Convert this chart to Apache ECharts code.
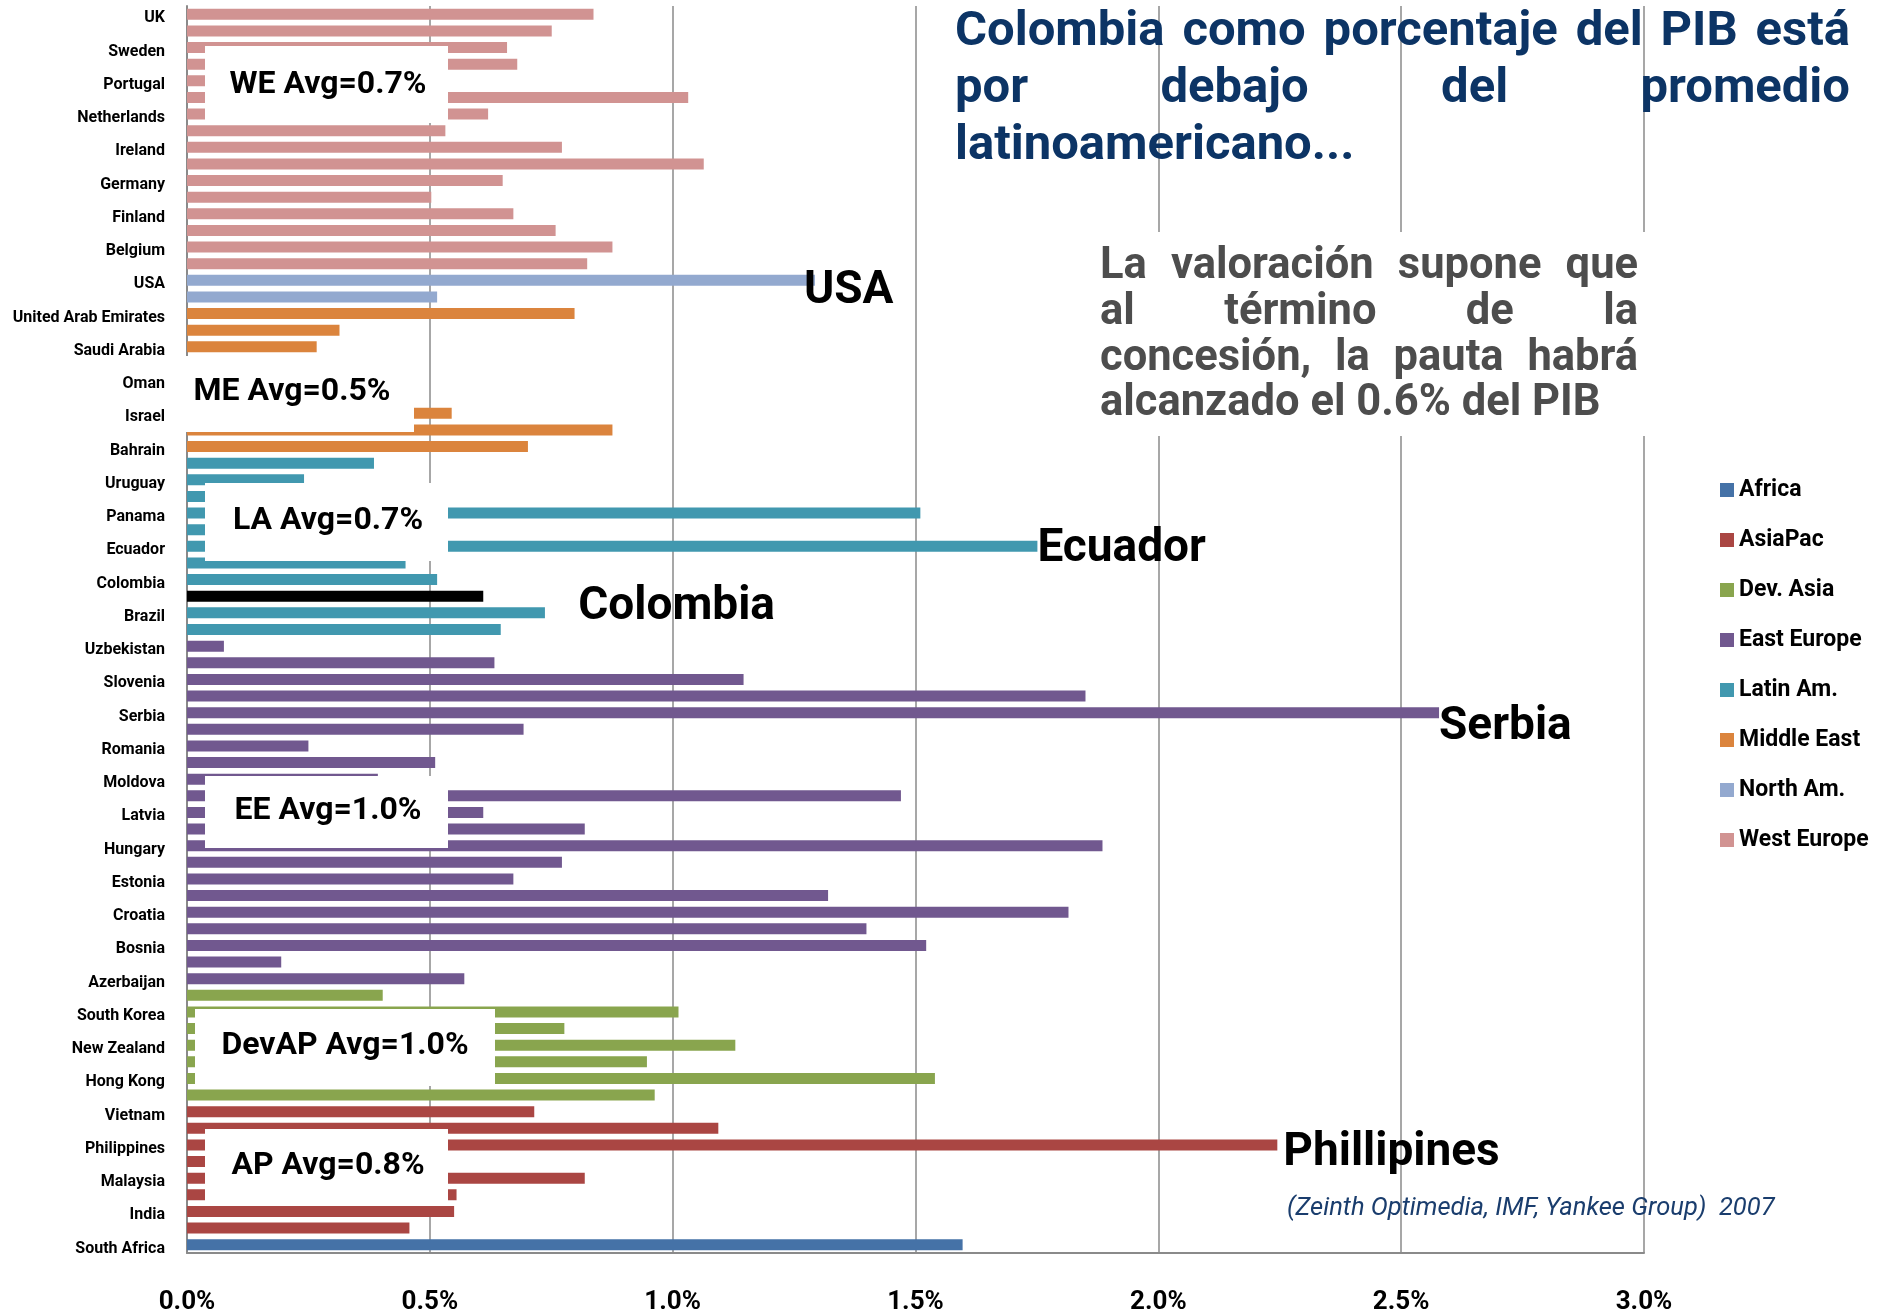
<!DOCTYPE html>
<html>
<head>
<meta charset="utf-8">
<title>Colombia como porcentaje del PIB</title>
<script src="https://cdn.jsdelivr.net/npm/echarts@6/dist/echarts.min.js"></script>
<style>
  html, body { margin: 0; padding: 0; background: #fff; }
  #chart { width: 1890px; height: 1314px; }
</style>
</head>
<body>
<div id="chart"></div>
<script>
// regions, top to bottom as drawn; '' = unlabeled bar
var weLabels = ['UK', '', 'Sweden', '', 'Portugal', '', 'Netherlands', '', 'Ireland', '', 'Germany', '', 'Finland', '', 'Belgium', ''];
var weValues = [0.837, 0.751, 0.659, 0.680, 0.45, 1.032, 0.620, 0.532, 0.772, 1.064, 0.650, 0.503, 0.672, 0.759, 0.876, 0.824];

var naLabels = ['USA', ''];
var naValues = [1.293, 0.515];

var meLabels = ['United Arab Emirates', '', 'Saudi Arabia', '', 'Oman', '', 'Israel', '', 'Bahrain'];
var meValues = [0.798, 0.314, 0.267, 0.30, 0.25, 0.35, 0.545, 0.876, 0.702];

var laLabels = ['', 'Uruguay', '', 'Panama', '', 'Ecuador', '', 'Colombia', '', 'Brazil', ''];
var laValues = [0.385, 0.241, 0.35, 1.51, 0.45, 1.751, 0.450, 0.515, 0.610, 0.737, 0.646];

var eeLabels = ['Uzbekistan', '', 'Slovenia', '', 'Serbia', '', 'Romania', '', 'Moldova', '', 'Latvia', '',
  'Hungary', '', 'Estonia', '', 'Croatia', '', 'Bosnia', '', 'Azerbaijan'];
var eeValues = [0.076, 0.633, 1.146, 1.850, 2.578, 0.693, 0.250, 0.511, 0.393, 1.470, 0.610, 0.819,
  1.885, 0.772, 0.672, 1.320, 1.815, 1.399, 1.522, 0.194, 0.571];

var daLabels = ['', 'South Korea', '', 'New Zealand', '', 'Hong Kong', ''];
var daValues = [0.403, 1.012, 0.777, 1.129, 0.947, 1.540, 0.963];

var apLabels = ['Vietnam', '', 'Philippines', '', 'Malaysia', '', 'India', ''];
var apValues = [0.715, 1.094, 2.245, 0.40, 0.819, 0.555, 0.550, 0.458];

var afLabels = ['South Africa'];
var afValues = [1.597];

var legendNames = ['Africa', 'AsiaPac', 'Dev. Asia', 'East Europe', 'Latin Am.', 'Middle East', 'North Am.', 'West Europe'];
var xTicks = [0, 0.5, 1.0, 1.5, 2.0, 2.5, 3.0];

// highlighted bar (Colombia) and the big callouts next to bars: [region, index, text]
var highlight = ['Latin Am.', 8];
var callouts = [
  ['North Am.', 0, 'USA'],
  ['Latin Am.', 5, 'Ecuador'],
  ['Latin Am.', 8, 'Colombia'],
  ['East Europe', 4, 'Serbia'],
  ['AsiaPac', 2, 'Phillipines']
];
var avgBoxes = ['WE Avg=0.7%', 'ME Avg=0.5%', 'LA Avg=0.7%', 'EE Avg=1.0%', 'DevAP Avg=1.0%', 'AP Avg=0.8%'];

var regions = [
  { name: 'West Europe', color: '#D19392', labels: weLabels, values: weValues },
  { name: 'North Am.', color: '#93A9CF', labels: naLabels, values: naValues },
  { name: 'Middle East', color: '#DB843D', labels: meLabels, values: meValues },
  { name: 'Latin Am.', color: '#4198AF', labels: laLabels, values: laValues },
  { name: 'East Europe', color: '#71588F', labels: eeLabels, values: eeValues },
  { name: 'Dev. Asia', color: '#89A54E', labels: daLabels, values: daValues },
  { name: 'AsiaPac', color: '#AA4643', labels: apLabels, values: apValues },
  { name: 'Africa', color: '#4572A7', labels: afLabels, values: afValues }
];

var FONT = 'Roboto';

// label placement tweaks for callouts (distance from bar end, vertical shift)
var calloutStyle = {
  'USA': [-11, 11], 'Ecuador': [0, 3], 'Colombia': [95, 11], 'Serbia': [0, 15], 'Phillipines': [6, 9]
};

var categories = [];
regions.forEach(function (r) { categories = categories.concat(r.labels); });
var total = categories.length;

var series = [];
var offset = 0;
regions.forEach(function (r) {
  var data = [];
  for (var i = 0; i < total; i++) data.push('-');
  r.values.forEach(function (v, i) {
    var item = { value: v };
    if (highlight[0] === r.name && highlight[1] === i) item.itemStyle = { color: '#000' };
    callouts.forEach(function (c) {
      if (c[0] === r.name && c[1] === i) {
        var st = calloutStyle[c[2]];
        item.label = {
          show: true, position: 'right', distance: st[0], offset: [0, st[1]],
          formatter: c[2], fontSize: 46, fontWeight: 'bold', fontFamily: FONT, color: '#000'
        };
      }
    });
    data[offset + i] = item;
  });
  offset += r.values.length;
  series.push({
    name: r.name, type: 'bar', data: data, barWidth: 11, barGap: '-100%',
    itemStyle: { color: r.color }, z: 2, animation: false
  });
});

// justified text helper
var mctx = document.createElement('canvas').getContext('2d');
function textLine(text, x0, x1, y, size, color, justify) {
  mctx.font = 'bold ' + size + 'px ' + FONT;
  var words = text.split(' ');
  var widths = words.map(function (w) { return mctx.measureText(w).width; });
  var sum = widths.reduce(function (a, b) { return a + b; }, 0);
  var gap = (justify && words.length > 1) ? (x1 - x0 - sum) / (words.length - 1) : mctx.measureText(' ').width;
  var x = x0;
  return words.map(function (w, i) {
    var el = {
      type: 'text', x: x, y: y, z: 20,
      style: { text: w, fill: color, fontSize: size, fontWeight: 'bold', fontFamily: FONT, align: 'left', verticalAlign: 'middle' }
    };
    x += widths[i] + gap;
    return el;
  });
}

var graphics = [];
// white boxes behind the average notes and the subtitle
var boxRects = [[205, 46, 243, 77], [180, 356, 234, 76], [205, 483, 243, 78], [205, 776, 243, 72], [195, 1009, 300, 77], [205, 1129, 243, 77]];
var boxText = [[328, 85], [292, 392], [328, 521], [328, 811], [345, 1046], [328, 1166]];
boxRects.forEach(function (b, i) {
  graphics.push({ type: 'rect', shape: { x: b[0], y: b[1], width: b[2], height: b[3] }, style: { fill: '#fff' }, z: 10 });
  graphics.push({
    type: 'text', x: boxText[i][0], y: boxText[i][1], z: 11,
    style: { text: avgBoxes[i], fill: '#000', fontSize: 32, fontWeight: 'bold', fontFamily: FONT, align: 'center', verticalAlign: 'middle' }
  });
});
graphics.push({ type: 'rect', shape: { x: 1085, y: 232, width: 580, height: 204 }, style: { fill: '#fff' }, z: 10 });

var titleColor = '#0c3465';
graphics = graphics
  .concat(textLine('Colombia como porcentaje del PIB está', 955, 1850, 33, 49, titleColor, true))
  .concat(textLine('por debajo del promedio', 955, 1850, 90, 49, titleColor, true))
  .concat(textLine('latinoamericano...', 955, 1850, 147, 49, titleColor, false));

var subColor = '#4d4d4d';
graphics = graphics
  .concat(textLine('La valoración supone que', 1100, 1638, 267, 43.5, subColor, true))
  .concat(textLine('al término de la', 1100, 1638, 313, 43.5, subColor, true))
  .concat(textLine('concesión, la pauta habrá', 1100, 1638, 359, 43.5, subColor, true))
  .concat(textLine('alcanzado el 0.6% del PIB', 1100, 1638, 404, 43.5, subColor, false));

graphics.push({
  type: 'text', x: 1287, y: 1209, z: 20,
  style: { text: '(Zeinth Optimedia, IMF, Yankee Group)  2007', fill: '#1a3d6d', fontSize: 25.5, fontStyle: 'italic', fontFamily: FONT, align: 'left', verticalAlign: 'middle' }
});

var chart = echarts.init(document.getElementById('chart'));
chart.setOption({
  animation: false,
  backgroundColor: '#fff',
  grid: { left: 187, right: 246, top: 6, bottom: 61, containLabel: false, outerBoundsMode: 'none' },
  legend: {
    data: legendNames, orient: 'vertical', left: 1715, top: 473,
    icon: 'rect', itemWidth: 14, itemHeight: 14, itemGap: 26,
    textStyle: { fontSize: 23, fontWeight: 'bold', fontFamily: FONT, color: '#000', lineHeight: 24 }
  },
  xAxis: {
    type: 'value', min: xTicks[0], max: xTicks[xTicks.length - 1], interval: xTicks[1] - xTicks[0],
    axisLine: { show: true, lineStyle: { color: '#8a8a8a', width: 2 } },
    axisTick: { show: false },
    axisLabel: {
      margin: 36, fontSize: 26, fontWeight: 'bold', fontFamily: FONT, color: '#000',
      formatter: function (v) { return v.toFixed(1) + '%'; }
    },
    splitLine: { show: true, lineStyle: { color: '#8a8a8a', width: 1.5 } }
  },
  yAxis: {
    type: 'category', data: categories, inverse: true,
    axisLine: { show: true, lineStyle: { color: '#8a8a8a', width: 2 } },
    axisTick: { show: false },
    axisLabel: { interval: 1, margin: 22, fontSize: 16, fontWeight: 'bold', fontFamily: FONT, color: '#000', verticalAlign: 'top', lineHeight: 8 },
    splitLine: { show: false }
  },
  series: series,
  graphic: graphics
});
</script>
</body>
</html>
